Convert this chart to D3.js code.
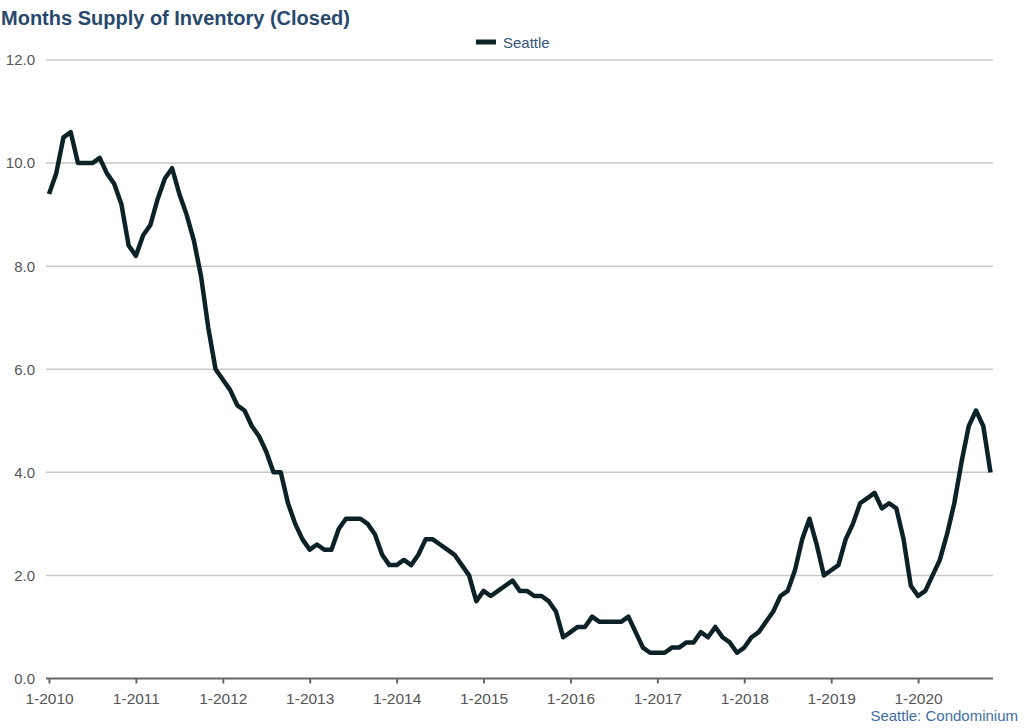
<!DOCTYPE html>
<html>
<head>
<meta charset="utf-8">
<script src="https://cdn.jsdelivr.net/npm/d3@7"></script>
<style>
  body { margin: 0; background: #fff; font-family: "Liberation Sans", Arial, sans-serif; }
  svg text { font-family: "Liberation Sans", Arial, sans-serif; }
</style>
</head>
<body>
<div id="chart"></div>
<script>
// Monthly months-supply values, Jan 2010 .. Nov 2020
const startYear = 2010;
const seattle = [
    9.4, 9.8, 10.5, 10.6, 10.0, 10.0, 10.0, 10.1, 9.8, 9.6, 9.2, 8.4,
    8.2, 8.6, 8.8, 9.3, 9.7, 9.9, 9.4, 9.0, 8.5, 7.8, 6.8, 6.0,
    5.8, 5.6, 5.3, 5.2, 4.9, 4.7, 4.4, 4.0, 4.0, 3.4, 3.0, 2.7,
    2.5, 2.6, 2.5, 2.5, 2.9, 3.1, 3.1, 3.1, 3.0, 2.8, 2.4, 2.2,
    2.2, 2.3, 2.2, 2.4, 2.7, 2.7, 2.6, 2.5, 2.4, 2.2, 2.0, 1.5,
    1.7, 1.6, 1.7, 1.8, 1.9, 1.7, 1.7, 1.6, 1.6, 1.5, 1.3, 0.8,
    0.9, 1.0, 1.0, 1.2, 1.1, 1.1, 1.1, 1.1, 1.2, 0.9, 0.6, 0.5,
    0.5, 0.5, 0.6, 0.6, 0.7, 0.7, 0.9, 0.8, 1.0, 0.8, 0.7, 0.5,
    0.6, 0.8, 0.9, 1.1, 1.3, 1.6, 1.7, 2.1, 2.7, 3.1, 2.6, 2.0,
    2.1, 2.2, 2.7, 3.0, 3.4, 3.5, 3.6, 3.3, 3.4, 3.3, 2.7, 1.8,
    1.6, 1.7, 2.0, 2.3, 2.8, 3.4, 4.2, 4.9, 5.2, 4.9, 4.0
];
const yearTicks = [2010, 2011, 2012, 2013, 2014, 2015, 2016, 2017, 2018, 2019, 2020];
const yTicks = [0, 2, 4, 6, 8, 10, 12];

const width = 1024;
const height = 728;
const margin = { left: 48, right: 31, top: 60, bottom: 49 };

const svg = d3.select("#chart").append("svg")
    .attr("width", width)
    .attr("height", height);

const x = d3.scaleLinear()
    .domain([0, seattle.length - 1])
    .range([49, 990.5]);

const y = d3.scaleLinear()
    .domain([0, 12])
    .range([height - margin.bottom - 0.5, margin.top]);

// gridlines
svg.append("g")
    .selectAll("line")
    .data(yTicks.filter(d => d > 0))
    .enter().append("line")
    .attr("x1", 46)
    .attr("x2", width - margin.right)
    .attr("y1", d => y(d))
    .attr("y2", d => y(d))
    .style("stroke", "#c8c8c8")
    .style("stroke-width", 1.5);

// y labels
svg.append("g")
    .selectAll("text")
    .data(yTicks)
    .enter().append("text")
    .attr("x", 35)
    .attr("y", d => y(d))
    .attr("dy", "0.36em")
    .attr("text-anchor", "end")
    .style("font-size", "15px")
    .style("fill", "#555")
    .text(d => d.toFixed(1));

// x axis
const xAxis = d3.axisBottom(x)
    .tickValues(yearTicks.map(yr => (yr - startYear) * 12))
    .tickSize(5)
    .tickFormat(d => `1-${startYear + d / 12}`);

const gx = svg.append("g")
    .attr("transform", `translate(0,${y(0)})`)
    .call(xAxis);

gx.select(".domain")
    .attr("d", `M46,0H${width - margin.right}`)
    .style("stroke", "#666")
    .style("stroke-width", 2);
gx.selectAll(".tick line")
    .style("stroke", "#666")
    .style("stroke-width", 2);
gx.selectAll(".tick text")
    .attr("dy", "1.15em")
    .style("font-size", "15.5px")
    .style("fill", "#555");

// line
const line = d3.line()
    .x((d, i) => x(i))
    .y(d => y(d));

svg.append("path")
    .datum(seattle)
    .attr("d", line)
    .style("fill", "none")
    .style("stroke", "#0c2226")
    .style("stroke-width", 4.5)
    .style("stroke-linejoin", "round");

// title
svg.append("text")
    .attr("x", 1)
    .attr("y", 25)
    .style("font-size", "20px")
    .style("font-weight", "bold")
    .style("fill", "#28496e")
    .text("Months Supply of Inventory (Closed)");

// legend
svg.append("line")
    .attr("x1", 476)
    .attr("x2", 496)
    .attr("y1", 42)
    .attr("y2", 42)
    .style("stroke", "#0c2226")
    .style("stroke-width", 5);

svg.append("text")
    .attr("x", 503)
    .attr("y", 47.5)
    .style("font-size", "15px")
    .style("fill", "#34557a")
    .text("Seattle");

// source note
svg.append("text")
    .attr("x", 1018)
    .attr("y", 721)
    .attr("text-anchor", "end")
    .style("font-size", "15px")
    .style("fill", "#3d6ea6")
    .text("Seattle: Condominium");
</script>
</body>
</html>
